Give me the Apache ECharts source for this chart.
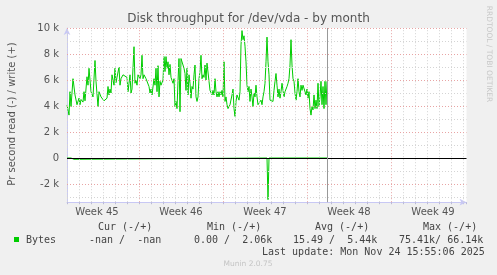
<!DOCTYPE html>
<html><head><meta charset="utf-8">
<script src="https://cdn.jsdelivr.net/npm/echarts@6/dist/echarts.min.js"></script>
<style>html,body{margin:0;padding:0;background:#F0F0F0}#c{width:497px;height:275px}</style>
</head><body><div id="c"></div>
<script>
// Time in hours since the left edge of the graph (2 h per sample), values in k bytes/s
const writeHours = [0,2,4,6,8,12,16,18,20,24,26,28,32,34,36,40,42,44,48,50,52,56,58,62,64,66,68,72,74,76,80,82,84,86,88,90,94,96,98,100,104,106,108,112,114,116,120,122,124,126,128,130,134,136,138,140,142,146,148,150,152,154,158,160,162,164,166,168,170,174,176,178,180,182,184,186,188,192,194,196,198,200,202,204,206,208,212,214,216,218,220,222,224,226,228,230,232,234,236,238,240,242,244,246,248,250,252,254,256,258,260,262,264,266,268,270,272,274,276,278,280,282,284,286,288,290,292,294,296,298,300,302,304,306,308,310,312,314,316,318,320,322,324,326,328,330,332,334,336,338,340,342,344,346,348,350,352,354,356,358,360,362,364,366,368,370,372,374,376,378,380,382,384,386,388,390,392,394,396,398,400,402,404,406,408,410,412,414,416,418,420,422,424,426,428,430,432,434,436,438,440,442,444,446,448,450,452,454,456,458,460,462,464,466,468,470,472,474,476,478,480,482,484,486,488,490,492,494,496,498,500,502,504,506,508,510,512,514,516,518,520];
const writeK = [4.08,3.95,3.3,5.1,3.95,6.1,4.85,4.7,4.1,4.6,4.1,4.5,4.3,5.1,4.4,6.25,5.6,6.9,5.1,5.0,4.7,7.5,5.9,3.95,5.1,5.2,4.7,4.7,4.4,4.3,4.6,5.5,4.85,5.3,5.0,6.4,5.6,6.9,5.8,6.2,7.0,5.6,6.1,6.4,6.5,6.4,6.2,5.1,5.75,6.4,5.0,5.3,8.56,5.75,6.0,5.6,6.4,6.1,6.4,7.9,6.1,6.4,6.1,6.2,6.0,5.5,5.0,5.3,4.85,6.1,5.6,6.9,5.1,7.1,4.7,5.9,5.6,6.0,7.8,6.65,7.8,6.9,7.4,6.4,7.2,6.2,5.75,6.1,3.95,4.35,3.8,5.9,7.65,3.56,7.65,7.8,7.8,6.9,6.5,5.2,6.9,4.85,6.4,5.75,4.6,5.5,5.3,6.4,7.15,4.7,4.35,4.7,6.1,6.65,7.9,6.1,6.4,6.2,7.15,6.0,7.3,7.15,5.9,5.2,5.1,4.85,5.2,4.85,6.1,5.1,4.7,5.1,4.7,5.1,4.85,5.2,4.7,7.4,4.35,4.7,4.1,3.8,3.7,4.1,4.2,4.85,5.3,3.8,3.2,4.35,4.85,4.7,4.45,5.1,8.7,9.8,9.1,9.4,8.6,7.4,5.6,5.1,5.5,4.35,5.3,4.7,3.95,5.0,4.7,5.6,4.7,4.1,4.2,3.95,4.45,4.1,4.7,5.1,5.75,7.4,9.3,7.4,6.4,4.45,4.35,4.6,4.35,5.2,5.9,6.5,5.6,4.7,5.3,4.6,5.1,5.75,5.2,4.7,5.1,5.0,5.5,5.75,6.1,7.15,9.1,7.15,6.1,5.9,5.0,4.45,5.1,6.1,5.1,4.7,5.6,5.2,5.6,5.6,5.6,4.85,5.3,4.6,5.1,3.8,3.3,3.95,3.7,4.85,3.8,4.45,3.8,5.75,3.95,4.7,5.9,4.1,5.5,3.8,5.9,4.1,5.9];
const readHours = [0,8,10,14,16,400,402,404,520];
const readK = [0,0,-0.1,-0.1,0,0,-3.2,0,0];
const nowHour = 521;
const weekStarts = [-24,144,312,480,648];
const weekLabels = ['Week 45','Week 46','Week 47','Week 48','Week 49'];
const yMajorTicks = [-2,0,2,4,6,8,10];
const yMinorTicks = [-3,-1,1,3,5,7,9];
const xMax = 799;
const titleText = 'Disk throughput for /dev/vda - by month';
const yName = 'Pr second read (-) / write (+)';
const legendHeaders = ['Cur (-/+)','Min (-/+)','Avg (-/+)','Max (-/+)'];
const legendValues = ['-nan /  -nan','0.00 /  2.06k','15.49 /  5.44k','75.41k/ 66.14k'];
const legendName = 'Bytes';
const lastUpdate = 'Last update: Mon Nov 24 15:55:06 2025';
const footer = 'Munin 2.0.75';
const rrdText = 'RRDTOOL / TOBI OETIKER';

const GREEN = '#00CC00';
const MINOR = '#D4D4D4';
const MAJOR = '#E8A4A4';
const AXIS = '#C8C8F4';

const labelMap = {};
weekStarts.forEach((s, i) => { labelMap[s + 84] = weekLabels[i]; });

const gridLines = [];
for (let h = 0; h <= xMax; h += 24) {
  const isWeek = weekStarts.indexOf(h) >= 0;
  gridLines.push({ xAxis: h, lineStyle: { color: isWeek ? MAJOR : MINOR, type: [1, 2], width: 1 } });
}
yMinorTicks.forEach(v => gridLines.push({ yAxis: v, lineStyle: { color: MINOR, type: [1, 2], width: 1 } }));
yMajorTicks.forEach(v => { if (v !== 0) gridLines.push({ yAxis: v, lineStyle: { color: MAJOR, type: [1, 2], width: 1 } }); });

const writeData = writeHours.map((h, i) => [h, writeK[i]]);
const readData = readHours.map((h, i) => [h, readK[i]]);

const mono = '10px "DejaVu Sans Mono"';
const legendX = [98, 207, 315, 423];
const valueX = [89, 194, 293, 399];
const graphics = [
  { type: 'text', x: 248.5, y: 19, style: { text: titleText, font: '12px "DejaVu Sans"', fill: '#555', align: 'center', verticalAlign: 'middle' } },
  { type: 'text', x: 12, y: 114, rotation: Math.PI / 2, style: { text: yName, font: '10px "DejaVu Sans"', fill: '#555', align: 'center', verticalAlign: 'middle' } },
  { type: 'text', x: 489, y: 54, rotation: -Math.PI / 2, style: { text: rrdText, font: '7.5px "DejaVu Sans"', fill: '#C8C8C8', align: 'center', verticalAlign: 'middle' } },
  { type: 'rect', shape: { x: 14, y: 237, width: 5, height: 5 }, style: { fill: GREEN } },
  { type: 'text', x: 26, y: 240, style: { text: legendName, font: mono, fill: '#444', verticalAlign: 'middle' } },
  { type: 'text', x: 262, y: 252, style: { text: lastUpdate, font: mono, fill: '#444', verticalAlign: 'middle' } },
  { type: 'text', x: 248, y: 264, style: { text: footer, font: '7.5px "DejaVu Sans"', fill: '#C4C4C4', align: 'center', verticalAlign: 'middle' } }
];
legendHeaders.forEach((t, i) => graphics.push({ type: 'text', x: legendX[i], y: 227.5, style: { text: t, font: mono, fill: '#444', verticalAlign: 'middle' } }));
legendValues.forEach((t, i) => graphics.push({ type: 'text', x: valueX[i], y: 240, style: { text: t, font: mono, fill: '#444', verticalAlign: 'middle' } }));

const chart = echarts.init(document.getElementById('c'), null, { renderer: 'canvas' });
chart.setOption({
  animation: false,
  backgroundColor: '#F0F0F0',
  grid: { left: 67, right: 30.5, top: 28, bottom: 72.8, show: true, backgroundColor: '#FFFFFF', borderWidth: 0 },
  xAxis: [{
    type: 'value', min: 0, max: xMax, interval: 12,
    axisLine: { show: true, onZero: false, lineStyle: { color: AXIS, width: 1 }, symbol: ['none', 'arrow'], symbolSize: [5, 7] },
    axisTick: { show: false },
    splitLine: { show: false },
    axisLabel: { formatter: v => labelMap[v] || '', fontFamily: 'DejaVu Sans', fontSize: 10, color: '#555', margin: 5 }
  }, {
    type: 'value', min: 0, max: xMax, interval: 24, position: 'bottom',
    axisLine: { show: false, onZero: false }, axisTick: { show: true, length: 2, lineStyle: { color: '#B8B8D8' } },
    axisLabel: { show: false }, splitLine: { show: false }
  }],
  yAxis: {
    type: 'value', min: -3.4, max: 10, interval: 0.2,
    axisLine: { show: true, onZero: false, lineStyle: { color: AXIS, width: 1 }, symbol: ['none', 'arrow'], symbolSize: [5, 7] },
    axisTick: { show: false },
    splitLine: { show: false },
    axisLabel: {
      fontFamily: 'DejaVu Sans', fontSize: 10, color: '#555', margin: 8,
      formatter: v => { const r = Math.round(v); if (Math.abs(v - r) > 1e-6 || yMajorTicks.indexOf(r) < 0) return ''; return r === 0 ? '0' : r + ' k'; }
    }
  },
  graphic: graphics,
  series: [
    { type: 'line', data: [], z: 1, silent: true,
      markLine: { silent: true, symbol: ['none', 'none'], label: { show: false }, animation: false, data: gridLines } },
    { type: 'line', data: readData, z: 3, showSymbol: false, lineStyle: { color: GREEN, width: 1 }, itemStyle: { color: GREEN } },
    { type: 'line', data: writeData, z: 3, showSymbol: false, lineStyle: { color: GREEN, width: 1 }, itemStyle: { color: GREEN } },
    { type: 'line', data: [], z: 5, silent: true,
      markLine: { silent: true, symbol: ['none', 'none'], label: { show: false }, animation: false,
        data: [ { yAxis: 0, lineStyle: { color: '#000', type: 'solid', width: 1 } },
                { xAxis: nowHour, lineStyle: { color: '#999', type: 'solid', width: 1 } } ] } }
  ]
});
</script></body></html>
